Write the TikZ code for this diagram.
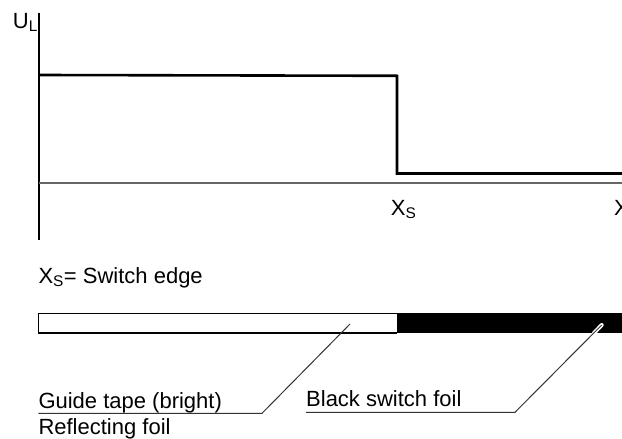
\documentclass[tikz,border=0pt]{standalone}
\usepackage{fontspec}
\setmainfont{Liberation Sans}
\definecolor{axisgray}{HTML}{666666}
\definecolor{leadgray}{HTML}{333333}
\begin{document}
\begin{tikzpicture}[x=1pt,y=-1pt,
  lbl/.style={inner sep=0pt,anchor=base west,font=\fontsize{22}{26}\selectfont},
  curve/.style={line width=2.6pt,line join=miter},
  leader/.style={line width=1pt,leadgray}]
\useasboundingbox (0,0) rectangle (622,439);
% axes
\coordinate (yt) at (39,12.7);
\coordinate (yb) at (39,240);
\coordinate (xl) at (39,182.7);
\coordinate (xr) at (622,182.7);
\draw[line width=1.3pt] (yt) -- (yb);
\draw[line width=1.8pt,axisgray] (xl) -- (xr);
% signal
\coordinate (s0) at (39,75);
\coordinate (s1) at (397,75.8);
\coordinate (s2) at (397,173.5);
\coordinate (s3) at (622,173.5);
\draw[curve] (s0) -- (s1) -- (s2) -- (s3);
% labels
\node[lbl] (ul) at (12.7,28.3) {U\textsubscript{L}};
\node[lbl] (xs) at (390.7,215) {X\textsubscript{S}};
\node[lbl] (xx) at (614,215) {X};
\node[lbl] (def) at (38.3,283.3) {X\textsubscript{S}= Switch edge};
% bar
\coordinate (b0) at (38.3,313.3);
\coordinate (bm) at (397,333);
\coordinate (bm2) at (397,313.3);
\coordinate (b1) at (622,333);
\fill[black] (bm2) rectangle (b1);
\draw[line width=1.5pt] (bm) -| (b0) -- (bm2);
% leader 1
\node[lbl] (guide) at (38.3,408) {Guide tape (bright)};
\node[lbl] (refl) at (38.3,434) {Reflecting foil};
\coordinate (l1a) at (350,324);
\coordinate (l1b) at (262,413.3);
\coordinate (l1c) at (38.3,413.3);
\draw[leader] (l1a) -- (l1b) -- (l1c);
% leader 2
\node[lbl] (black) at (306,406) {Black switch foil};
\coordinate (l2a) at (601.7,325);
\coordinate (l2e) at (594,333);
\coordinate (l2b) at (515,412.3);
\coordinate (l2c) at (306,412.3);
\draw[line width=4pt,white,line cap=round] (l2a) -- (l2e);
\draw[leader] (l2a) -- (l2b) -- (l2c);
\end{tikzpicture}
\end{document}
